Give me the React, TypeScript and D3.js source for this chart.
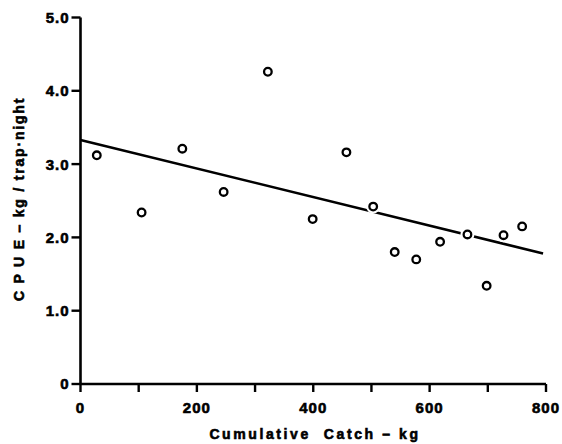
import React from "react";
import * as d3 from "d3";

// values
const catchKg = [28, 105, 175, 246, 322, 399, 457, 503, 540, 577, 618, 665, 698, 727, 759];
const cpue = [3.12, 2.34, 3.21, 2.62, 4.26, 2.25, 3.16, 2.42, 1.8, 1.7, 1.94, 2.04, 1.34, 2.03, 2.15];
const fitX = [0, 795];
const fitY = [3.33, 1.78];
const xTicks = [0, 100, 200, 300, 400, 500, 600, 700, 800];
const xLabels = [0, 200, 400, 600, 800];
const yTicks = [0, 1, 2, 3, 4, 5];

const W = 562;
const H = 444;
const font = "'Liberation Sans', Arial, sans-serif";

export default function App() {
  const x = d3.scaleLinear().domain([0, 800]).range([80.5, 546]);
  const y = d3.scaleLinear().domain([0, 5]).range([384, 17.5]);
  const line = d3
    .line<number>()
    .x((d, i) => x(fitX[i]))
    .y(d => y(d));

  // heavy bold look of the original typesetting
  const heavy = { fontFamily: font, fontWeight: "bold" as const, stroke: "#000", strokeWidth: 0.6 };

  return (
    <svg width={W} height={H} style={{ position: "absolute", left: 0, top: 0, background: "#fff" }}>
      {/* fit line */}
      <path d={line(fitY) || ""} fill="none" stroke="#000" strokeWidth={2.6} />

      {/* points with white halo that breaks the line */}
      {catchKg.map((c, i) => (
        <circle key={i} cx={x(c)} cy={y(cpue[i])} r={4} fill="#fff" stroke="#fff" strokeWidth={6} />
      ))}
      {catchKg.map((c, i) => (
        <circle key={"p" + i} cx={x(c)} cy={y(cpue[i])} r={3.8} fill="#fff" stroke="#000" strokeWidth={2.3} />
      ))}

      {/* axes */}
      <line x1={x(0)} x2={x(0)} y1={y(5)} y2={y(0)} stroke="#000" strokeWidth={2.6} />
      <line x1={x(0)} x2={x(800)} y1={y(0)} y2={y(0)} stroke="#000" strokeWidth={2.6} />

      {yTicks.map(t => (
        <g key={t}>
          <line x1={x(0) - 9} x2={x(0)} y1={y(t)} y2={y(t)} stroke="#000" strokeWidth={2.4} />
          <text x={x(0) - 11} y={y(t)} dy="0.36em" textAnchor="end" fontSize={15} letterSpacing={1} {...heavy}>
            {t === 0 ? "0" : d3.format(".1f")(t)}
          </text>
        </g>
      ))}

      {xTicks.map(t => (
        <line key={t} x1={x(t)} x2={x(t)} y1={y(0)} y2={y(0) + 8} stroke="#000" strokeWidth={2.4} />
      ))}
      {xLabels.map(t => (
        <text key={t} x={x(t)} y={413} textAnchor="middle" fontSize={15} letterSpacing={1} {...heavy}>
          {t}
        </text>
      ))}

      <text
        x={315}
        y={439}
        textAnchor="middle"
        fontSize={14}
        letterSpacing={2.6}
        style={{ whiteSpace: "pre" }}
        {...heavy}
      >
        Cumulative  Catch – kg
      </text>
      <text
        transform="translate(24,199) rotate(-90)"
        textAnchor="middle"
        fontSize={14}
        letterSpacing={1.8}
        style={{ whiteSpace: "pre" }}
        {...heavy}
      >
        C P U E – kg / trap·night
      </text>
    </svg>
  );
}
